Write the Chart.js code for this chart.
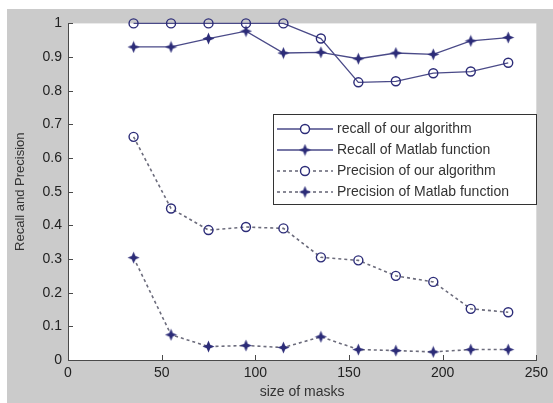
<!DOCTYPE html>
<html>
<head>
<meta charset="utf-8">
<script src="https://cdn.jsdelivr.net/npm/chart.js@4"></script>
<style>
  body { margin: 0; background: #fff; }
  #wrap { position: absolute; left: 7px; top: 9px; width: 546px; height: 394px; background: #cbcbcb; }
</style>
</head>
<body>
<div id="wrap"><canvas id="chart" width="546" height="394"></canvas></div>
<script>
// mask sizes on the x axis
const masks = [35, 55, 75, 95, 115, 135, 155, 175, 195, 215, 235];
const recallOurs = [1, 1, 1, 1, 1, 0.955, 0.825, 0.828, 0.852, 0.857, 0.883];
const recallMatlab = [0.93, 0.93, 0.955, 0.977, 0.912, 0.914, 0.895, 0.912, 0.908, 0.948, 0.958];
const precisionOurs = [0.663, 0.45, 0.386, 0.395, 0.391, 0.305, 0.296, 0.25, 0.232, 0.152, 0.142];
const precisionMatlab = [0.304, 0.075, 0.04, 0.043, 0.037, 0.069, 0.031, 0.028, 0.024, 0.031, 0.031];
const seriesNames = ["recall of our algorithm", "Recall of Matlab function", "Precision of our algorithm", "Precision of Matlab function"];
const xTicks = [0, 50, 100, 150, 200, 250];
const yTicks = [0, 0.1, 0.2, 0.3, 0.4, 0.5, 0.6, 0.7, 0.8, 0.9, 1];

const navy = "#2c2c78";
const lineBlue = "#4a4a88";
const dotGray = "#6c6c7c";
const font = { family: "'Liberation Sans', Arial, sans-serif", size: 14 };

// filled 4-point star marker
function starMarker(){
    const c = document.createElement("canvas");
    c.width = 13; c.height = 13;
    const g = c.getContext("2d");
    g.fillStyle = navy;
    g.beginPath();
    g.moveTo(6.5, 0.5); g.lineTo(8.3, 4.7); g.lineTo(12.5, 6.5); g.lineTo(8.3, 8.3);
    g.lineTo(6.5, 12.5); g.lineTo(4.7, 8.3); g.lineTo(0.5, 6.5); g.lineTo(4.7, 4.7);
    g.closePath();
    g.fill();
    return c;
}
const star = starMarker();

function pts(values){
    return masks.map((m, i) => ({ x: m, y: values[i] }));
}

function series(label, values, dashed, marker){
    return {
        label: label,
        data: pts(values),
        borderColor: dashed ? dotGray : lineBlue,
        borderWidth: dashed ? 1.6 : 1.3,
        borderDash: dashed ? [3, 3] : [],
        pointStyle: marker === "o" ? "circle" : star,
        pointRadius: 4.5,
        pointBorderWidth: 1.4,
        pointBorderColor: navy,
        pointBackgroundColor: "rgba(0,0,0,0)",
        tension: 0,
        fill: false,
        clip: false
    };
}

// white plot area, inward ticks and the legend box
const matlabLook = {
    id: "matlabLook",
    beforeDraw(chart){
        const a = chart.chartArea, ctx = chart.ctx;
        ctx.save();
        ctx.fillStyle = "#fff";
        ctx.fillRect(a.left, a.top, a.right - a.left, a.bottom - a.top);
        ctx.restore();
    },
    afterDraw(chart){
        const a = chart.chartArea, ctx = chart.ctx;
        const xs = chart.scales.x, ys = chart.scales.y;
        ctx.save();
        ctx.strokeStyle = "#4a4a4a";
        ctx.lineWidth = 1;
        xTicks.forEach(v => {
            const px = Math.round(xs.getPixelForValue(v)) + 0.5;
            ctx.beginPath(); ctx.moveTo(px, a.bottom); ctx.lineTo(px, a.bottom - 5); ctx.stroke();
        });
        yTicks.forEach(v => {
            const py = Math.round(ys.getPixelForValue(v)) + 0.5;
            ctx.beginPath(); ctx.moveTo(a.left, py); ctx.lineTo(a.left + 5, py); ctx.stroke();
        });

        // legend
        const bx = 266, by = 105, bw = 263, bh = 90;
        ctx.fillStyle = "#fff";
        ctx.fillRect(bx, by, bw, bh);
        ctx.strokeStyle = "#333";
        ctx.strokeRect(bx + 0.5, by + 0.5, bw, bh);
        ctx.font = "14px " + font.family;
        ctx.textBaseline = "middle";
        chart.data.datasets.forEach((ds, i) => {
            const y = by + 15 + i * 21;
            ctx.strokeStyle = ds.borderColor;
            ctx.lineWidth = ds.borderWidth;
            ctx.setLineDash(ds.borderDash);
            ctx.beginPath(); ctx.moveTo(bx + 4, y); ctx.lineTo(bx + 60, y); ctx.stroke();
            ctx.setLineDash([]);
            if(ds.pointStyle === "circle"){
                ctx.strokeStyle = navy;
                ctx.lineWidth = 1.4;
                ctx.fillStyle = "#fff";
                ctx.beginPath(); ctx.arc(bx + 32, y, 4.5, 0, Math.PI * 2); ctx.fill(); ctx.stroke();
            } else {
                ctx.drawImage(ds.pointStyle, bx + 32 - 6.5, y - 6.5);
            }
            ctx.fillStyle = "#333";
            ctx.fillText(ds.label, bx + 64, y);
        });
        ctx.restore();
    }
};

new Chart(document.getElementById("chart"), {
    type: "line",
    data: {
        datasets: [
            series(seriesNames[0], recallOurs, false, "o"),
            series(seriesNames[1], recallMatlab, false, "*"),
            series(seriesNames[2], precisionOurs, true, "o"),
            series(seriesNames[3], precisionMatlab, true, "*")
        ]
    },
    options: {
        responsive: false,
        animation: false,
        layout: { padding: { left: 0, top: 12, right: 15, bottom: 0 } },
        plugins: { legend: { display: false }, tooltip: { enabled: false } },
        scales: {
            x: {
                type: "linear",
                min: 0, max: 250,
                afterBuildTicks: s => { s.ticks = xTicks.map(v => ({ value: v })); },
                afterFit: s => { s.height = 43; },
                grid: { display: false, drawTicks: false },
                border: { display: true, color: "#4a4a4a", width: 1 },
                ticks: { color: "#222", font: font, padding: 5, maxRotation: 0 },
                title: { display: true, text: "size of masks", color: "#333", font: font, padding: { top: 2, bottom: 2 } }
            },
            y: {
                min: 0, max: 1,
                afterBuildTicks: s => { s.ticks = yTicks.map(v => ({ value: v })); },
                afterFit: s => { s.width = 61; },
                grid: { display: false, drawTicks: false },
                border: { display: true, color: "#4a4a4a", width: 1 },
                ticks: { color: "#222", font: font, padding: 6, callback: v => String(Math.round(v * 10) / 10) },
                title: { display: true, text: "Recall and Precision", color: "#333", font: { family: font.family, size: 13 }, padding: { top: 6, bottom: 4 } }
            }
        }
    },
    plugins: [matlabLook]
});
</script>
</body>
</html>
